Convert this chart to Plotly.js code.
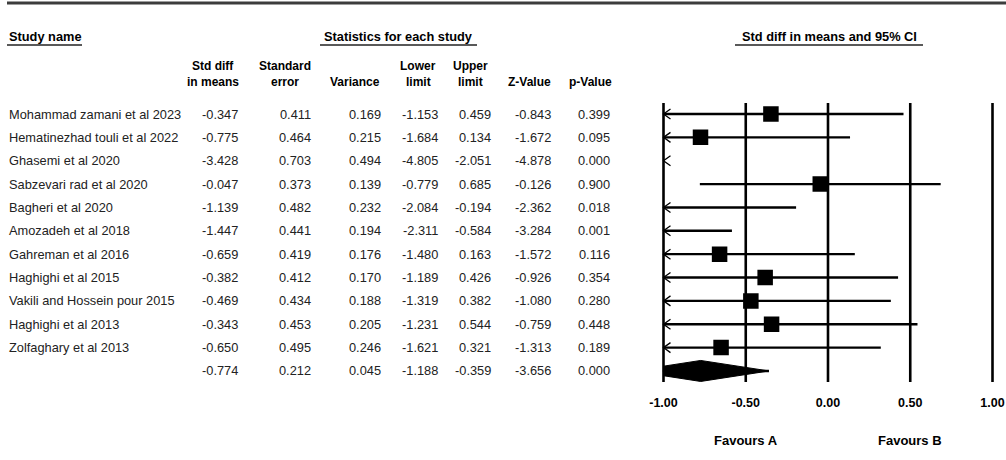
<!DOCTYPE html>
<html><head><meta charset="utf-8">
<script src="https://cdn.plot.ly/plotly-3.0.1.min.js"></script>
<style>html,body{margin:0;padding:0;background:#fff;} #chart{width:1006px;height:460px;}</style>
</head><body><div id="chart"></div>
<script>
// ---- data ----
const studies = [
  'Mohammad zamani et al 2023','Hematinezhad touli et al 2022','Ghasemi et al 2020',
  'Sabzevari rad et al 2020','Bagheri et al 2020','Amozadeh et al 2018',
  'Gahreman et al 2016','Haghighi et al 2015','Vakili and Hossein pour 2015',
  'Haghighi et al 2013','Zolfaghary et al 2013'
];
const stdDiff    = [-0.347,-0.775,-3.428,-0.047,-1.139,-1.447,-0.659,-0.382,-0.469,-0.343,-0.650];
const stdErr     = [0.411,0.464,0.703,0.373,0.482,0.441,0.419,0.412,0.434,0.453,0.495];
const variance   = [0.169,0.215,0.494,0.139,0.232,0.194,0.176,0.170,0.188,0.205,0.246];
const lowerLimit = [-1.153,-1.684,-4.805,-0.779,-2.084,-2.311,-1.480,-1.189,-1.319,-1.231,-1.621];
const upperLimit = [0.459,0.134,-2.051,0.685,-0.194,-0.584,0.163,0.426,0.382,0.544,0.321];
const zValue     = [-0.843,-1.672,-4.878,-0.126,-2.362,-3.284,-1.572,-0.926,-1.080,-0.759,-1.313];
const pValue     = [0.399,0.095,0.000,0.900,0.018,0.001,0.116,0.354,0.280,0.448,0.189];
const pooledStdDiff = -0.774, pooledStdErr = 0.212, pooledVariance = 0.045,
      pooledLower = -1.188, pooledUpper = -0.359, pooledZ = -3.656, pooledP = 0.000;
const axisTicks = [-1, -0.5, 0, 0.5, 1];
const favourLabels = ['Favours A', 'Favours B'];
const favourPositions = [-0.5, 0.5];
const headerLine1 = ['Std diff','Standard','','Lower','Upper','',''];
const headerLine2 = ['in means','error','Variance','limit','limit','Z-Value','p-Value'];
const groupTitles = ['Study name','Statistics for each study','Std diff in means and 95% CI'];

// ---- geometry (layout only) ----
const W = 1006, H = 460;
const rowTop = 114, rowStep = 23.36;
const px0 = 828, pxUnit = 164.5;
const xLo = -1.2, xHi = 1.08;
const colRight = [240, 313, 383, 440, 493, 553, 612];
const colCenter = [213, 285, 355, 418, 470, 529, 590];
const FONT = 'Liberation Sans, Arial, sans-serif';
const px2x = p => p / W;
const py2y = p => 1 - p / H;

const nRows = studies.length + 1; // include pooled row
const clipMin = axisTicks[0], clipMax = axisTicks[axisTicks.length - 1];

// ---- traces ----
const traces = [];
const vx = [], vy = [];
axisTicks.forEach(t => { vx.push(t, t, null); vy.push(-0.47, nRows - 1 + 0.47, null); });
traces.push({x: vx, y: vy, mode: 'lines', line: {color: '#000', width: 2.6}, hoverinfo: 'skip'});

const cx = [], cy = [], ax = [], ay = [];
const arrowDx = 7 / pxUnit, arrowDy = 5 / rowStep;
function addCI(lo, hi, row) {
  const a = Math.max(lo, clipMin), b = Math.min(hi, clipMax);
  if (b > clipMin && a < clipMax) { cx.push(a, b, null); cy.push(row, row, null); }
  if (lo < clipMin) { ax.push(clipMin + arrowDx, clipMin, clipMin + arrowDx, null); ay.push(row - arrowDy, row, row + arrowDy, null); }
}
studies.forEach((s, i) => addCI(lowerLimit[i], upperLimit[i], i));
traces.push({x: cx, y: cy, mode: 'lines', line: {color: '#000', width: 2.4}, hoverinfo: 'skip'});

const sx = [], sy = [];
stdDiff.forEach((v, i) => { if (v >= clipMin && v <= clipMax) { sx.push(v); sy.push(i); } });
traces.push({x: sx, y: sy, mode: 'markers', marker: {symbol: 'square', size: 15.5, color: '#000'}, hoverinfo: 'skip'});

const pr = nRows - 1, hh = 10.5 / rowStep;
function halfAt(x) {
  if (x <= pooledStdDiff) return hh * (x - pooledLower) / (pooledStdDiff - pooledLower);
  return hh * (pooledUpper - x) / (pooledUpper - pooledStdDiff);
}
let dX = [], dY = [];
if (pooledLower < clipMin) {
  const h = halfAt(clipMin);
  dX = [clipMin, pooledStdDiff, pooledUpper, pooledStdDiff, clipMin, clipMin];
  dY = [pr - h, pr - hh, pr, pr + hh, pr + h, pr - h];
} else {
  dX = [pooledLower, pooledStdDiff, pooledUpper, pooledStdDiff, pooledLower];
  dY = [pr, pr - hh, pr, pr + hh, pr];
}
traces.push({x: dX, y: dY, mode: 'lines', fill: 'toself', fillcolor: '#000', line: {color: '#000', width: 1}, hoverinfo: 'skip'});
addCI(pooledLower, pooledUpper, pr);
traces.push({x: ax, y: ay, mode: 'lines', line: {color: '#000', width: 1.3}, hoverinfo: 'skip'});

// ---- annotations (table) ----
const ann = [];
const bodyFont = {family: FONT, size: 12.8, color: '#222'};
studies.forEach((s, i) => {
  ann.push({xref: 'paper', yref: 'y', x: px2x(7), y: i, text: s, showarrow: false, xanchor: 'left', yanchor: 'middle', font: bodyFont});
});
const cols = [stdDiff, stdErr, variance, lowerLimit, upperLimit, zValue, pValue];
const pooled = [pooledStdDiff, pooledStdErr, pooledVariance, pooledLower, pooledUpper, pooledZ, pooledP];
cols.forEach((col, c) => {
  col.concat([pooled[c]]).forEach((v, i) => {
    ann.push({xref: 'paper', yref: 'y', x: px2x(colRight[c]), y: i, text: v.toFixed(3), showarrow: false, xanchor: 'right', yanchor: 'middle', font: bodyFont});
  });
});
const headFont = {family: FONT, size: 12, color: '#000'};
headerLine1.forEach((t, c) => {
  if (t) ann.push({xref: 'paper', yref: 'paper', x: px2x(colCenter[c]), y: py2y(66), text: '<b>' + t + '</b>', showarrow: false, xanchor: 'center', yanchor: 'middle', font: headFont});
});
headerLine2.forEach((t, c) => {
  ann.push({xref: 'paper', yref: 'paper', x: px2x(colCenter[c]), y: py2y(82), text: '<b>' + t + '</b>', showarrow: false, xanchor: 'center', yanchor: 'middle', font: headFont});
});
const titleFont = {family: FONT, size: 12.8, color: '#000'};
ann.push({xref: 'paper', yref: 'paper', x: px2x(7), y: py2y(36), text: '<b>' + groupTitles[0] + '</b>', showarrow: false, xanchor: 'left', yanchor: 'middle', font: titleFont});
ann.push({xref: 'paper', yref: 'paper', x: px2x(398), y: py2y(36), text: '<b>' + groupTitles[1] + '</b>', showarrow: false, xanchor: 'center', yanchor: 'middle', font: titleFont});
ann.push({xref: 'paper', yref: 'paper', x: px2x(829), y: py2y(36), text: '<b>' + groupTitles[2] + '</b>', showarrow: false, xanchor: 'center', yanchor: 'middle', font: titleFont});
favourLabels.forEach((t, k) => {
  ann.push({xref: 'x', yref: 'paper', x: favourPositions[k], y: py2y(440), text: '<b>' + t + '</b>', showarrow: false, xanchor: 'center', yanchor: 'middle', font: {family: FONT, size: 13, color: '#000'}});
});

// ---- shapes (rules) ----
const rule = (x0, x1, y, w, col) => ({type: 'line', xref: 'paper', yref: 'paper', x0: px2x(x0), x1: px2x(x1), y0: py2y(y), y1: py2y(y), line: {color: col, width: w}});
const shapes = [
  rule(7, 1006, 3, 3, '#3c3c3c'),
  rule(7, 82, 45, 1.6, '#222'),
  rule(320, 477, 45, 1.6, '#222'),
  rule(735, 923, 45, 1.6, '#222')
];

const layout = {
  width: W, height: H, margin: {l: 0, r: 0, t: 0, b: 0},
  paper_bgcolor: '#fff', plot_bgcolor: 'rgba(0,0,0,0)',
  showlegend: false,
  xaxis: {
    domain: [(px0 + xLo * pxUnit) / W, (px0 + xHi * pxUnit) / W],
    range: [xLo, xHi], anchor: 'free', position: py2y(393),
    tickvals: axisTicks, ticktext: axisTicks.map(t => t.toFixed(2)),
    tickfont: {family: FONT, size: 12.5, color: '#000', weight: 'bold'},
    ticklabeloverflow: 'allow',
    showgrid: false, zeroline: false, showline: false, ticks: '', fixedrange: true
  },
  yaxis: {
    domain: [0, 1], range: [(H - rowTop) / rowStep, -rowTop / rowStep],
    visible: false, showgrid: false, zeroline: false, fixedrange: true
  },
  annotations: ann, shapes: shapes
};
Plotly.newPlot('chart', traces, layout, {staticPlot: true, displayModeBar: false});
</script></body></html>
